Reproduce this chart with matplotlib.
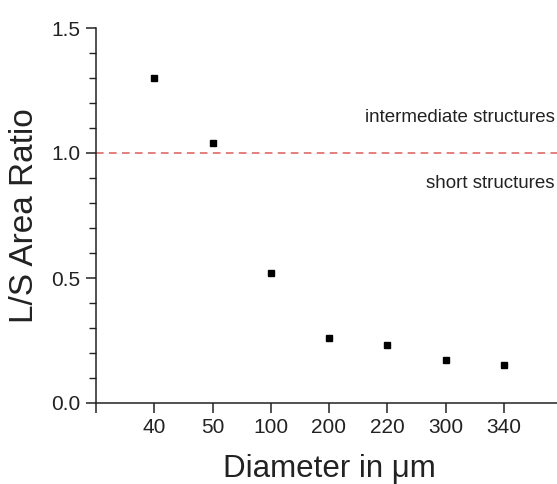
import matplotlib
matplotlib.use("Agg")
import matplotlib.pyplot as plt
from matplotlib.ticker import MultipleLocator, FormatStrFormatter
from matplotlib.transforms import blended_transform_factory

plt.rcParams['font.family'] = ['Liberation Sans', 'DejaVu Sans']

diameters = ["40", "50", "100", "200", "220", "300", "340"]
ratios = [1.30, 1.04, 0.52, 0.26, 0.232, 0.171, 0.151]
threshold = 1.0
region_labels = ["intermediate structures", "short structures"]
region_label_y = [1.14, 0.88]

fig = plt.figure(figsize=(5.57, 4.84), dpi=100)
ax = fig.add_axes([96/557, 1-403/484, (562-96)/557, (403-28)/484])

pos = list(range(1, len(diameters) + 1))
ax.plot(pos, ratios, linestyle='none', marker='s', markersize=5, color='black')
ax.axhline(threshold, color='#e05a5a', linestyle=(0, (5, 3.5)), linewidth=1.1)

ax.set_xlim(0, len(diameters) + 1)
ax.set_ylim(0, 1.5)
ax.set_xticks([0] + pos)
ax.set_xticklabels([""] + diameters)
ax.yaxis.set_major_locator(MultipleLocator(0.5))
ax.yaxis.set_minor_locator(MultipleLocator(0.1))
ax.yaxis.set_major_formatter(FormatStrFormatter('%.1f'))

for s in ['top', 'right']:
    ax.spines[s].set_visible(False)
for s in ['left', 'bottom']:
    ax.spines[s].set_linewidth(1.1)
    ax.spines[s].set_color('#222222')

ax.tick_params(axis='both', which='major', direction='out', length=7, width=1.1,
               labelsize=15, color='#222222', labelcolor='#222222', pad=4)
ax.tick_params(axis='y', which='minor', direction='out', length=5, width=1.0, color='#222222')

ax.set_xlabel("Diameter in μm", fontsize=22.5, color='#222222', labelpad=12)
ax.set_ylabel("L/S Area Ratio", fontsize=24, color='#222222', labelpad=8)

trans = blended_transform_factory(fig.transFigure, ax.transData)
for label, yv in zip(region_labels, region_label_y):
    ax.text(555/557, yv, label, transform=trans,
            ha='right', va='center', fontsize=13.5, color='#222222')

fig.savefig("out.png", dpi=100)
